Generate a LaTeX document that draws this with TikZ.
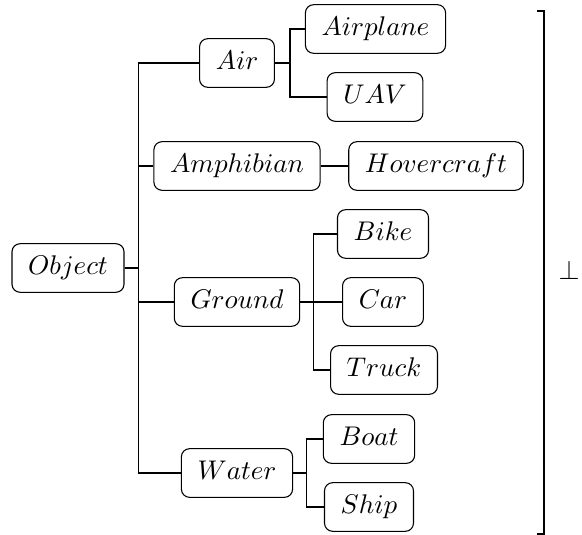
\documentclass[tikz,border=0pt]{standalone}
\begin{document}
\begin{tikzpicture}[x=0.3703pt,y=-0.3703pt,
  box/.style={draw, rounded corners=3pt, inner xsep=6pt, inner ysep=4.5pt,
    text height=7pt, text depth=2pt, font=\normalsize},
  link/.style={draw, line width=0.4pt},
  bracket/.style={line width=0.6pt}]
\useasboundingbox (0,0) rectangle (582,535);

% root
\node[box] (obj) at (68,268) {$Object$};

% first level
\node[box] (air)    at (237,63)  {$Air$};
\node[box] (amph)   at (237,166) {$Amphibian$};
\node[box] (ground) at (237,302) {$Ground$};
\node[box] (water)  at (237,473) {$Water$};

% second level
\node[box] (plane) at (375.5,29) {$Airplane$};
\node[box] (uav)   at (375,97)   {$UAV$};
\node[box] (hover) at (436,166)  {$Hovercraft$};
\node[box] (bike)  at (383,234)  {$Bike$};
\node[box] (car)   at (383,302)  {$Car$};
\node[box] (truck) at (384,370)  {$Truck$};
\node[box] (boat)  at (369,439)  {$Boat$};
\node[box] (ship)  at (369,507)  {$Ship$};

% forked edges
\foreach \c in {air,amph,ground,water}
  \path[link] (obj.east) -- ++(14,0) |- (\c.west);
\foreach \c in {plane,uav}
  \path[link] (air.east) -- ++(15,0) |- (\c.west);
\path[link] (amph.east) -- (hover.west);
\foreach \c in {bike,car,truck}
  \path[link] (ground.east) -- ++(13,0) |- (\c.west);
\foreach \c in {boat,ship}
  \path[link] (water.east) -- ++(13,0) |- (\c.west);

% closing bracket and bottom symbol
\coordinate (bt) at (537,11);
\coordinate (bb) at (537,534);
\draw[bracket] (bt) -- ++(7,0) -- (544,534) -- (bb);
\draw[line width=0.3pt] (542.5,185) -- (544,185) (542.5,456) -- (544,456);
\node[anchor=base, inner sep=0pt] (bot) at (569,279) {$\bot$};
\end{tikzpicture}
\end{document}
